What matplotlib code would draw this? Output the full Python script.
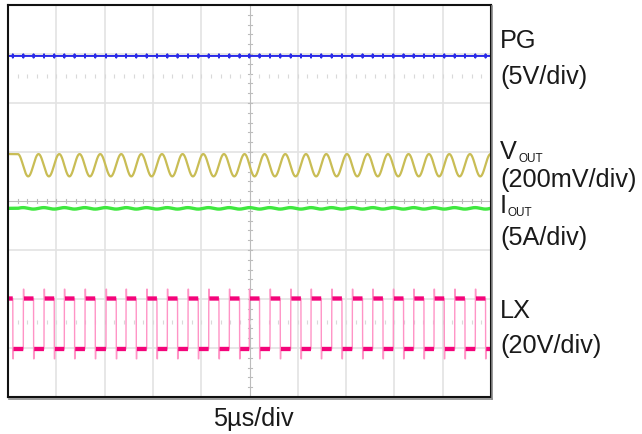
import numpy as np
import matplotlib
matplotlib.use("Agg")
import matplotlib.pyplot as plt
from matplotlib.lines import Line2D

# ---------------- data ----------------
time_per_div_us = 5.0
n_xdiv, n_ydiv = 10, 8

# LX rising-edge times in microseconds (first/last are just off screen)
lx_rise_us = [-0.563, 1.584, 3.727, 5.828, 7.971, 10.145, 12.215, 14.358, 16.491,
              18.634, 20.776, 22.909, 24.979, 27.122, 29.265, 31.366, 33.509,
              35.642, 37.754, 39.886, 41.998, 44.099, 46.242, 48.375, 50.50]
lx_high_time_us = 1.06
lx_high_div = -1.99
lx_low_div = -3.02
lx_overshoot_div = -1.80
lx_undershoot_div = -3.22

pg_level_div = 2.96
pg_spike_div = 0.035

vout_center_div = 0.73
vout_amp_div = 0.228
vout_peak_after_fall_us = 0.52

iout_level_div = -0.15
iout_ripple_div = 0.015

label_main = ["PG", "(5V/div)", "V", "(200mV/div)", "I", "(5A/div)", "LX", "(20V/div)"]
sub_text = "OUT"
xlabel = "5\u00b5s/div"

# ---------------- figure ----------------
W, H = 642, 435
fig = plt.figure(figsize=(W / 100, H / 100), dpi=100)
L, R, T, B = 8, 491, 6, 398
ax = fig.add_axes([L / W, 1 - B / H, (R - L) / W, (B - T) / H])
tmax = time_per_div_us * n_xdiv
ax.set_xlim(0, tmax)
ax.set_ylim(-n_ydiv / 2, n_ydiv / 2)
ax.set_xticks([]); ax.set_yticks([])
for s in ax.spines.values():
    s.set_linewidth(1.5)
    s.set_color("#111111")
    s.set_zorder(10)

# grid
gcol = "#e3e3e3"
for i in range(1, n_xdiv):
    if i != n_xdiv // 2:
        ax.axvline(i * time_per_div_us, color=gcol, lw=1.2, zorder=0)
for j in range(-n_ydiv // 2 + 1, n_ydiv // 2):
    if j != 0:
        ax.axhline(j, color=gcol, lw=1.2, zorder=0)
ccol = "#bcbcbc"
ax.axvline(tmax / 2, color=ccol, lw=0.8, zorder=0.5)
ax.axhline(0, color=ccol, lw=0.8, zorder=0.5)
px_x = time_per_div_us / ((R - L) / n_xdiv)
px_y = 1.0 / ((B - T) / n_ydiv)
for k in np.arange(0, tmax + 1e-9, time_per_div_us / 5):
    ax.plot([k, k], [-2 * px_y, 2 * px_y], color=ccol, lw=0.8, zorder=0.5)
for k in np.arange(-n_ydiv / 2, n_ydiv / 2 + 1e-9, 0.2):
    ax.plot([tmax / 2 - 2 * px_x, tmax / 2 + 2 * px_x], [k, k], color=ccol, lw=0.8, zorder=0.5)
# faint dotted marker rows
for yy in (2.55, -2.47):
    xs = np.arange(time_per_div_us / 5, tmax, time_per_div_us / 5)
    ax.plot(xs, np.full_like(xs, yy), ls="none", marker="|", ms=2.5, mew=0.8,
            color="#d9d9d9", zorder=0.5)

# ---------------- traces ----------------
t = np.linspace(0, tmax, 40001)
rise = np.array(lx_rise_us)
fall = rise + lx_high_time_us

# LX
lx = np.full_like(t, lx_low_div)
for r, f in zip(rise, fall):
    lx[(t >= r) & (t < f)] = lx_high_div
thin = lx.copy()
thick = lx.copy()
for r in rise:
    thin[(t >= r) & (t < r + 0.05)] = lx_overshoot_div
    thick[(t >= r - 0.005) & (t < r + 0.07)] = np.nan
for f in fall:
    thin[(t >= f) & (t < f + 0.05)] = lx_undershoot_div
    thick[(t >= f - 0.005) & (t < f + 0.07)] = np.nan
ax.plot(t, thin, color="#ff94c6", lw=1.0, zorder=3)
ax.plot(t, thick, color="#f4047a", lw=3.1, zorder=4, solid_capstyle="butt")

# PG
pg = np.full_like(t, pg_level_div)
for e in np.concatenate([rise, fall]):
    i = np.searchsorted(t, e)
    if 0 < i < len(t) - 4:
        pg[i:i + 2] = pg_level_div + pg_spike_div
        pg[i + 2:i + 4] = pg_level_div - pg_spike_div
ax.plot(t, pg, color="#2a2ae8", lw=1.4, zorder=4)

# VOUT: sinusoidal ripple with peaks a fixed delay after each LX falling edge
peaks = fall + vout_peak_after_fall_us
phase = np.interp(t, peaks, np.arange(len(peaks)))
vout = vout_center_div + vout_amp_div * np.cos(2 * np.pi * phase)
ax.plot(t, vout, color="#c9bd55", lw=1.6, zorder=4)

# IOUT
iout = iout_level_div + iout_ripple_div * np.sin(2 * np.pi * phase)
ax.plot(t, iout, color="#3fe83f", lw=2.4, zorder=4)

# frame shadow (right and bottom)
fig.add_artist(Line2D([(R + 1.5) / W] * 2, [1 - (B + 1.5) / H, 1 - (T + 1) / H],
                      color="#8a8a8a", lw=1.2, transform=fig.transFigure))
fig.add_artist(Line2D([(L + 1) / W, (R + 1.5) / W], [1 - (B + 1.5) / H] * 2,
                      color="#8a8a8a", lw=1.2, transform=fig.transFigure))

# ---------------- labels ----------------
font = ["Liberation Sans", "DejaVu Sans"]
fs = 18.2
lx0 = 500
baselines = [48.5, 84, 159, 187, 213, 245, 318, 353]
for txt, yb in zip(label_main, baselines):
    fig.text(lx0 / W, 1 - yb / H, txt, family=font, fontsize=fs, va="baseline",
             ha="left", color="#1a1a1a")
# subscripts
for yb, dx in ((baselines[2], 18.5), (baselines[4], 7.5)):
    fig.text((lx0 + dx) / W, 1 - (yb + 3) / H, sub_text, family=font, fontsize=8.5,
             va="baseline", ha="left", color="#1a1a1a")

fig.text(253 / W, 1 - 426 / H, xlabel, family=font, fontsize=fs, va="baseline",
         ha="center", color="#1a1a1a")

fig.savefig("out.png", dpi=100)
